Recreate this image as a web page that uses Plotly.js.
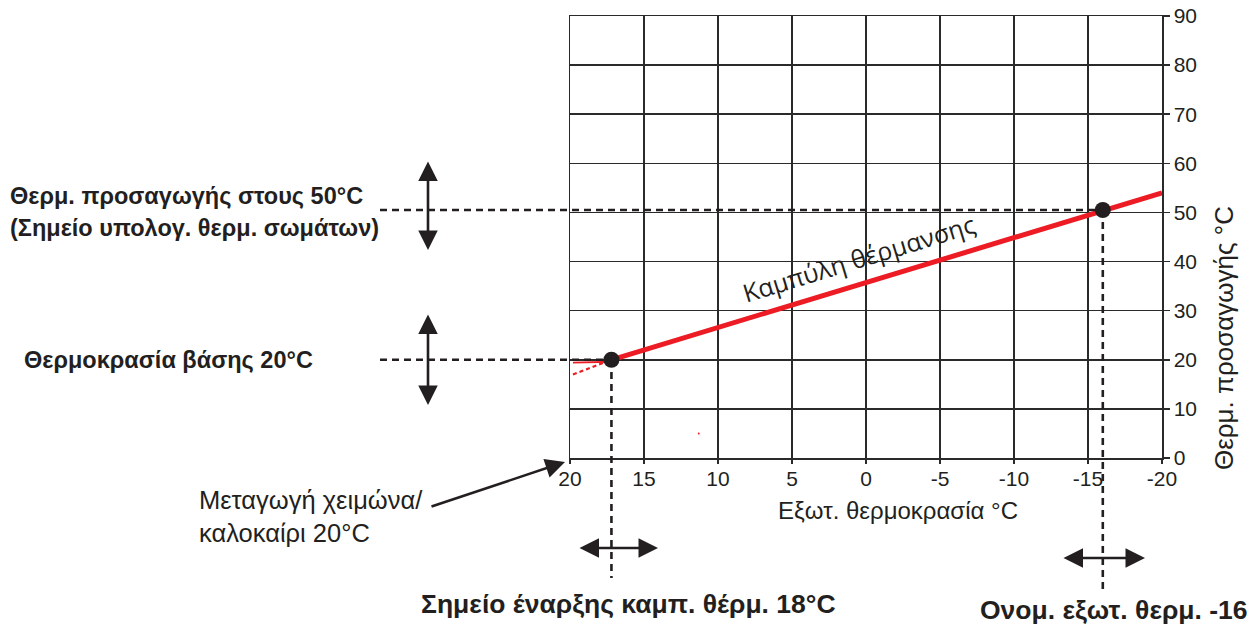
<!DOCTYPE html>
<html><head><meta charset="utf-8">
<script src="https://cdn.plot.ly/plotly-3.0.1.min.js"></script>
<style>html,body{margin:0;padding:0;background:#fff}#chart{width:1258px;height:626px}</style>
</head><body><div id="chart"></div>
<script>
// Data
const curveX = [17.2, -20];
const curveY = [20, 54];
const pointX = [17.2, -16];
const pointY = [20, 50.5];
const extSolidX = [19.8, 17.2];
const extSolidY = [19.4, 19.6];
const extDashX = [19.8, 17.2];
const extDashY = [17, 20];
const specX = [11.3];
const specY = [5];
const xTicks = [20, 15, 10, 5, 0, -5, -10, -15, -20];
const yTicks = [0, 10, 20, 30, 40, 50, 60, 70, 80, 90];

const RED = '#ed1c24', INK = '#231f20', GRID = '#2a2a2a';
const FONT = 'Liberation Sans, Arial, sans-serif';
// layout helpers (pixel -> paper)
const L = 570, R = 1162, T = 16, B = 458;
const pX = p => (p - L) / (R - L);
const pY = p => (B - p) / (B - T);

const traces = [
  {x: extSolidX, y: extSolidY, mode: 'lines', line: {color: RED, width: 1.8}, hoverinfo: 'skip'},
  {x: extDashX, y: extDashY, mode: 'lines', line: {color: RED, width: 2.2, dash: '4px,3px'}, hoverinfo: 'skip'},
  {x: curveX, y: curveY, mode: 'lines', line: {color: RED, width: 5}},
  {x: pointX, y: pointY, mode: 'markers', marker: {color: INK, size: 16}, cliponaxis: false},
  {x: specX, y: specY, mode: 'markers', marker: {color: RED, size: 2}}
];

const dash = {color: INK, width: 2.6, dash: '7px,5px'};
const shapes = [
  {type: 'line', xref: 'paper', yref: 'y', x0: pX(380), x1: pX(1102), y0: pointY[1], y1: pointY[1], line: dash},
  {type: 'line', xref: 'paper', yref: 'y', x0: pX(380), x1: pX(612), y0: pointY[0], y1: pointY[0], line: dash},
  {type: 'line', xref: 'x', yref: 'paper', x0: pointX[0], x1: pointX[0], y0: pY(360), y1: pY(578), line: dash},
  {type: 'line', xref: 'x', yref: 'paper', x0: pointX[1], x1: pointX[1], y0: pY(210), y1: pY(592), line: dash}
];

function arrow(x, y, ax, ay, both) {
  return {xref: 'paper', yref: 'paper', x: pX(x), y: pY(y), ax: ax, ay: ay, text: '',
    showarrow: true, arrowhead: 2, arrowsize: 1.5, arrowwidth: 2.6, arrowcolor: INK,
    arrowside: both ? 'end+start' : 'end', standoff: 0, startstandoff: 0,
    startarrowhead: 2, startarrowsize: 1.5};
}
function label(txt, x, y, xanchor, size, bold, angle, fam) {
  return {xref: 'paper', yref: 'paper', x: pX(x), y: pY(y), text: bold ? '<b>' + txt + '</b>' : txt,
    showarrow: false, xanchor: xanchor, yanchor: 'middle', textangle: angle || 0,
    font: {family: fam || FONT, size: size, color: INK}};
}

const annotations = [
  arrow(428, 250, 0, -90, true),
  arrow(428, 405, 0, -92, true),
  arrow(658, 548, -80, 0, true),
  arrow(1145, 558, -83, 0, true),
  arrow(565, 462, -135, 45, false),
  label('Θερμ. προσαγωγής στους 50°C', 8, 196, 'left', 23.5, true),
  label('(Σημείο υπολογ. θερμ. σωμάτων)', 8, 228, 'left', 23.5, true),
  label('Θερμοκρασία βάσης 20°C', 22, 360, 'left', 23.5, true),
  label('Σημείο έναρξης καμπ. θέρμ. 18°C', 628, 604, 'center', 26.5, true),
  label('Ονομ. εξωτ. θερμ. -16', 1250, 610, 'right', 26.5, true),
  label('Μεταγωγή χειμώνα/', 197, 500, 'left', 25.5, false),
  label('καλοκαίρι 20°C', 197, 533, 'left', 25.5, false),
  label('Εξωτ. θερμοκρασία °C', 898, 510, 'center', 24, false),
  label('Θερμ. προσαγωγής °C', 1224, 338, 'center', 26, false, -90),
  {xref: 'x', yref: 'y', x: 0.5, y: 40.7, text: 'Καμπύλη θέρμανσης', showarrow: false,
   textangle: -17, font: {family: 'Open Sans, sans-serif', size: 25, color: INK}}
];

const axisCommon = {showgrid: true, gridcolor: GRID, gridwidth: 1.5, zeroline: false,
  showline: true, linecolor: GRID, linewidth: 1.5, mirror: true,
  ticks: 'outside', tickcolor: GRID, tickwidth: 1.5,
  tickfont: {family: FONT, size: 21, color: INK}, fixedrange: true};

const layout = {
  width: 1258, height: 626,
  margin: {l: L, r: 1258 - R, t: T, b: 626 - B, pad: 0},
  paper_bgcolor: '#fff', plot_bgcolor: '#fff',
  showlegend: false,
  font: {family: FONT, size: 18, color: INK},
  xaxis: Object.assign({}, axisCommon, {range: [20, -20], tickvals: xTicks, ticktext: xTicks.map(String), ticklen: 4, ticklabelstandoff: -3}),
  yaxis: Object.assign({}, axisCommon, {range: [0, 90], side: 'right', tickvals: yTicks, ticktext: yTicks.map(String), ticklen: 6}),
  shapes: shapes,
  annotations: annotations
};

Plotly.newPlot('chart', traces, layout, {displayModeBar: false, staticPlot: true});
</script></body></html>
